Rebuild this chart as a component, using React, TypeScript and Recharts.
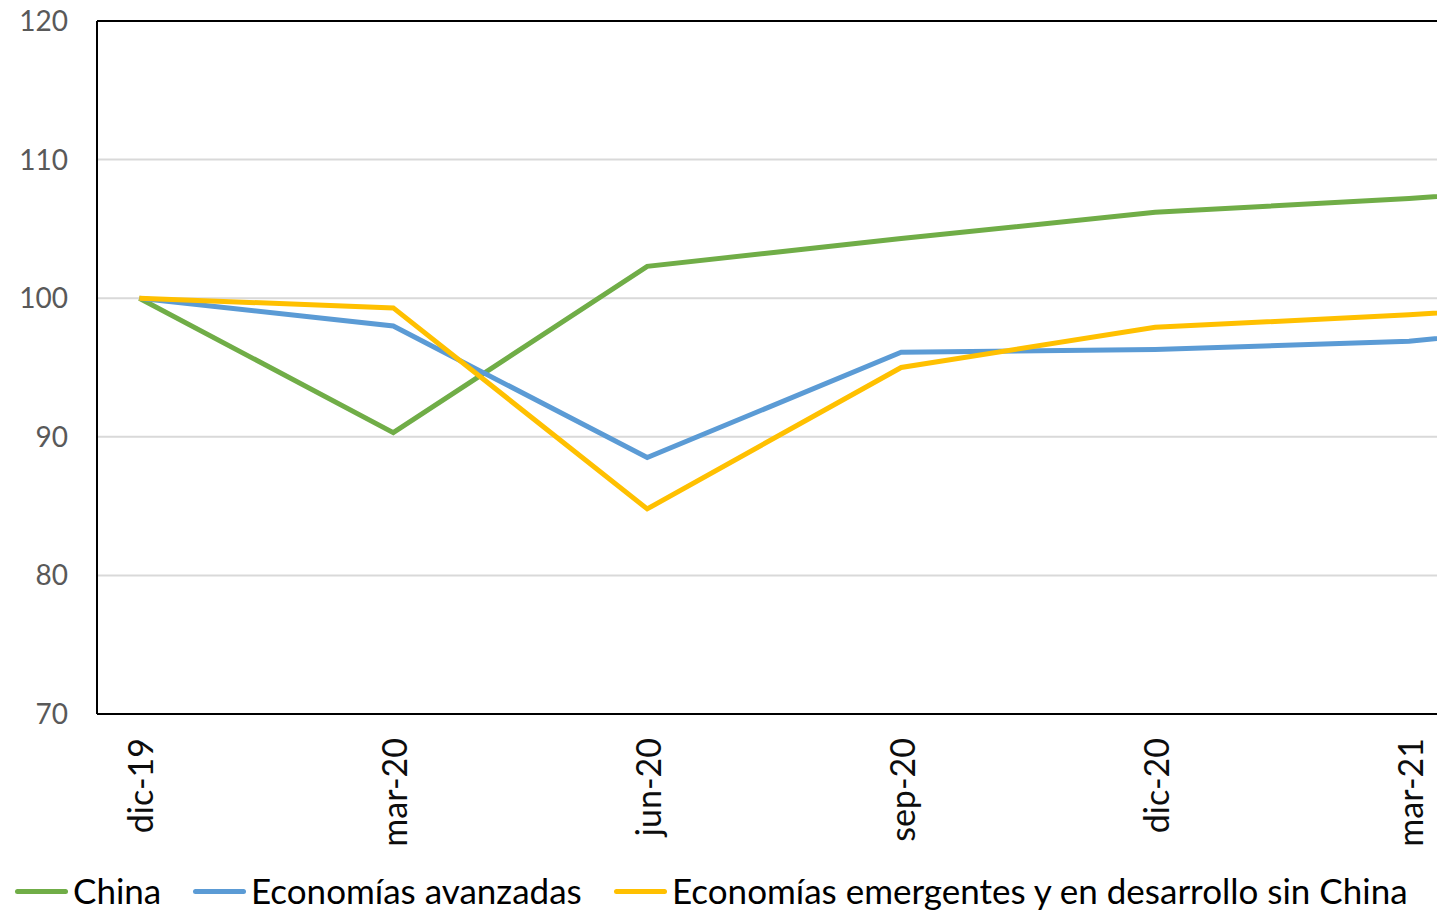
import React from "react";
import { LineChart, Line, XAxis, YAxis, CartesianGrid, ReferenceLine, Legend } from "recharts";

const categories = ["dic-19", "mar-20", "jun-20", "sep-20", "dic-20", "mar-21", "jun-21"];
const china = [100, 90.3, 102.3, 104.3, 106.2, 107.2, 108.5];
const avanzadas = [100, 98.0, 88.5, 96.1, 96.3, 96.9, 98.6];
const emergentes = [100, 99.3, 84.8, 95.0, 97.9, 98.8, 100.0];
const yTicks = [70, 80, 90, 100, 110, 120];
const monthsPerStep = 3;

const seriesNames = ["China", "Economías avanzadas", "Economías emergentes y en desarrollo sin China"];
const seriesColors = ["#70AD47", "#5B9BD5", "#FFC000"];

const data = categories.map((c, i) => ({
  m: i * monthsPerStep,
  label: c,
  china: china[i],
  avanzadas: avanzadas[i],
  emergentes: emergentes[i],
}));
const xTicks = data.map((d) => d.m).slice(0, 6);

const FONT = "Lato, 'Open Sans', sans-serif";

const XTick = (props: any) => {
  const { x, y, payload } = props;
  const row = data.find((d) => d.m === payload.value);
  return (
    <text
      x={x}
      y={y}
      transform={`rotate(-90, ${x}, ${y})`}
      textAnchor="end"
      dominantBaseline="central"
      fontFamily={FONT}
      fontSize={34}
      fill="#0d0d0d"
    >
      {row ? row.label : ""}
    </text>
  );
};

const legendMarkerLeft = [15, 193, 614];
const legendTextLeft = [73, 251, 672];

const LegendContent = () => (
  <div style={{ position: "relative", width: 1437, height: 52 }}>
    {seriesNames.map((n, i) => (
      <React.Fragment key={n}>
        <div
          style={{
            position: "absolute",
            left: legendMarkerLeft[i],
            top: 27,
            width: 53,
            height: 5,
            borderRadius: 3,
            background: seriesColors[i],
          }}
        />
        <div
          style={{
            position: "absolute",
            left: legendTextLeft[i],
            top: 8,
            fontFamily: FONT,
            fontSize: 35,
            lineHeight: "40px",
            color: "#000",
            whiteSpace: "nowrap",
          }}
        >
          {n}
        </div>
      </React.Fragment>
    ))}
  </div>
);

export default function App() {
  return (
    <div style={{ position: "absolute", left: 0, top: 0, width: 1437, height: 914, background: "#fff" }}>
      <LineChart width={1437} height={914} data={data} margin={{ top: 21, right: 0, left: 0, bottom: 0 }}>
        <CartesianGrid vertical={false} stroke="#D9D9D9" strokeWidth={2} />
        <XAxis
          type="number"
          dataKey="m"
          domain={[-0.5, 15.33]}
          allowDataOverflow
          ticks={xTicks}
          interval={0}
          tick={<XTick />}
          tickLine={false}
          tickSize={0}
          tickMargin={24}
          axisLine={{ stroke: "#000", strokeWidth: 2 }}
          height={148}
        />
        <YAxis
          width={97}
          domain={[70, 120]}
          ticks={yTicks}
          interval={0}
          tickLine={false}
          tickSize={0}
          tickMargin={29}
          axisLine={{ stroke: "#000", strokeWidth: 2 }}
          tick={{ fill: "#595959", fontSize: 28, fontFamily: FONT }}
        />
        <ReferenceLine y={120} stroke="#000" strokeWidth={2} />
        <Legend verticalAlign="bottom" content={<LegendContent />} wrapperStyle={{ left: 0, width: 1437, height: 52 }} />
        <Line type="linear" dataKey="china" stroke={seriesColors[0]} strokeWidth={5} dot={false} isAnimationActive={false} />
        <Line type="linear" dataKey="avanzadas" stroke={seriesColors[1]} strokeWidth={5} dot={false} isAnimationActive={false} />
        <Line type="linear" dataKey="emergentes" stroke={seriesColors[2]} strokeWidth={5} dot={false} isAnimationActive={false} />
      </LineChart>
    </div>
  );
}
